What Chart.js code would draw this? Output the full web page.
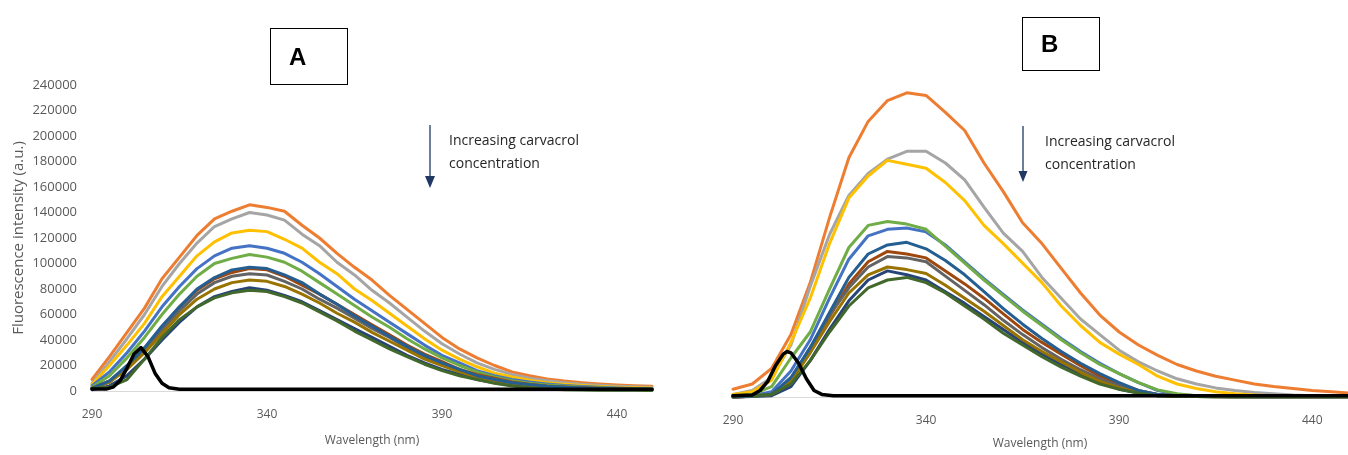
<!DOCTYPE html>
<html>
<head>
<meta charset="utf-8">
<script src="https://cdn.jsdelivr.net/npm/chart.js@4.4.0/dist/chart.umd.min.js"></script>
<style>
  body { margin: 0; background: #fff; }
  #page { position: relative; width: 1348px; height: 455px; overflow: hidden; font-family: 'Open Sans', sans-serif; }
  .panel { position: absolute; top: 0; height: 455px; }
  .tag { position: absolute; box-sizing: border-box; border: 1.5px solid #000; display: flex; align-items: center;
         font-family: 'Liberation Sans', Arial, sans-serif; font-weight: bold; font-size: 24px; color: #000; }
  .note { position: absolute; font-size: 14px; line-height: 23px; color: #262626; white-space: nowrap; }
</style>
</head>
<body>
<div id="page">
  <div class="panel" style="left:0;width:660px"><canvas id="chartA" width="660" height="455"></canvas></div>
  <div class="panel" style="left:660px;width:688px"><canvas id="chartB" width="688" height="455"></canvas></div>

  <div class="tag" style="left:270px;top:28px;width:78px;height:57px;padding-left:18px">A</div>
  <div class="tag" style="left:1022px;top:17px;width:78px;height:54px;padding-left:18px">B</div>

  <svg width="1348" height="455" style="position:absolute;left:0;top:0">
    <line x1="430" y1="125" x2="430" y2="178" stroke="#1F3864" stroke-width="1.3"/>
    <polygon points="425,176 435,176 430,188" fill="#1F3864"/>
    <line x1="1023" y1="126" x2="1023" y2="172" stroke="#1F3864" stroke-width="1.3"/>
    <polygon points="1018.5,171 1027.5,171 1023,182" fill="#1F3864"/>
  </svg>
  <div class="note" style="left:449px;top:128px">Increasing carvacrol<br>concentration</div>
  <div class="note" style="left:1045px;top:129px">Increasing carvacrol<br>concentration</div>
</div>

<script>
// Wavelength grid (nm) and tick labels
const wavelengths = [290, 295, 300, 305, 310, 315, 320, 325, 330, 335, 340, 345, 350, 355, 360, 365,
    370, 375, 380, 385, 390, 395, 400, 405, 410, 415, 420, 425, 430, 435, 440, 445, 450];
const xTicks = [290, 340, 390, 440];
const yTicks = [0, 20, 40, 60, 80, 100, 120, 140, 160, 180, 200, 220, 240]; // thousands a.u.

// Panel A intensities (thousands a.u.)
const aOrange = [9, 27, 46, 65, 88, 105, 122, 135, 141, 146, 144, 141, 130, 120, 108, 97, 87, 75, 64, 53, 42, 33, 26, 20, 15, 12, 9.5, 7.8, 6.5, 5.5, 4.8, 4.2, 3.8];
const aGray = [6, 23, 41, 60, 82, 100, 116, 129, 135, 140, 138, 134, 123, 114, 101, 91, 79, 69, 58, 47, 37, 29, 22, 17, 13, 10, 8, 6.5, 5.3, 4.5, 3.8, 3.3, 3];
const aYellow = [5, 20, 36, 53, 74, 90, 106, 117, 124, 126, 125, 119, 112, 101, 92, 80, 71, 61, 51, 41, 32, 25, 19, 14, 11, 8.5, 6.5, 5.2, 4.3, 3.6, 3, 2.6, 2.3];
const aBlue = [4, 15, 30, 47, 66, 82, 96, 106, 112, 114, 112, 108, 101, 92, 82, 72, 63, 54, 45, 36, 28, 22, 16, 12, 9, 7, 5.5, 4.3, 3.5, 2.9, 2.4, 2, 1.8];
const aGreen = [3, 12, 26, 42, 60, 76, 90, 100, 104, 107, 105, 101, 94, 85, 76, 67, 58, 50, 41, 33, 26, 20, 15, 11, 8, 6, 4.7, 3.7, 3, 2.5, 2, 1.7, 1.5];
const aNavy = [1, 4, 12, 25, 40, 54, 66, 74, 78, 81, 79, 75, 70, 63, 56, 49, 42, 35, 28, 22, 17, 13, 9, 6.5, 4.5, 3, 2, 1.5, 1.2, 1, 0.8, 0.7, 0.6];
const aBrown = [2, 8, 19, 33, 50, 66, 79, 88, 93, 96, 95, 90, 83, 76, 68, 60, 52, 44, 36, 29, 23, 17, 13, 10, 7, 5.3, 4, 3.2, 2.6, 2.1, 1.7, 1.4, 1.2];
const aDarkGray = [2, 7, 18, 32, 48, 63, 76, 85, 90, 92, 91, 86, 80, 72, 65, 57, 49, 42, 34, 27, 21, 16, 12, 9, 6.5, 5, 3.8, 3, 2.4, 1.9, 1.6, 1.3, 1.1];
const aDarkYellow = [2, 7, 17, 30, 45, 60, 72, 80, 85, 87, 86, 82, 76, 69, 61, 54, 46, 39, 32, 25, 20, 15, 11, 8, 6, 4.5, 3.5, 2.7, 2.2, 1.8, 1.5, 1.2, 1];
const aSteel = [2, 8, 20, 34, 51, 66, 80, 89, 95, 97, 96, 91, 85, 76, 68, 59, 51, 43, 35, 28, 22, 17, 12, 9, 6.5, 5, 3.8, 3, 2.4, 2, 1.6, 1.3, 1.1];
const aDarkGreen = [2, 3, 9, 25, 42, 56, 66, 73, 77, 79, 78, 74, 69, 62, 55, 47, 40, 33, 27, 21, 16, 12, 9, 6, 4, 2.5, 1.5, 1, 0.8, 0.6, 0.5, 0.5, 0.4];
const aBlackWavelengths = [290, 294, 296, 298, 300, 302, 304, 306, 308, 310, 312, 315, 320, 450];
const aBlack = [1.5, 1.5, 3, 8, 18, 29, 34, 27, 14, 6, 2.5, 1.3, 1.3, 1.3];

// Panel B intensities (thousands a.u.)
const bOrange = [6, 10, 22, 48, 88, 138, 184, 212, 228, 234, 232, 219, 205, 180, 158, 134, 118, 99, 80, 63, 50, 40, 32, 25, 20, 16, 13, 10, 8, 6.5, 5, 4, 3];
const bGray = [2, 5, 15, 40, 85, 125, 155, 172, 183, 189, 189, 180, 167, 146, 126, 112, 92, 76, 60, 48, 36, 27, 20, 14, 10, 7, 5, 3.5, 2.5, 1.5, 1, 1, 1];
const bYellow = [2, 4, 13, 42, 76, 118, 153, 170, 182, 179, 176, 165, 151, 132, 118, 103, 88, 70, 55, 42, 33, 25, 16, 10, 6.5, 4, 2.5, 1.5, 1, 0.8, 0.6, 0.5, 0.5];
const bBlue = [0.5, 1, 4, 20, 44, 76, 106, 124, 129, 130, 127, 117, 104, 91, 79, 67, 56, 45, 35, 26, 18, 11, 5, 2, 1, 0.5, 0.3, 0.2, 0.2, 0.2, 0.2, 0.2, 0.2];
const bGreen = [1, 2, 8, 30, 50, 83, 115, 132, 135, 133, 129, 116, 103, 90, 78, 66, 55, 44, 34, 25, 18, 11, 5.5, 2.5, 1, 0.5, 0.3, 0.2, 0.2, 0.2, 0.2, 0.2, 0.2];
const bNavy = [0, 0.3, 1, 8, 28, 52, 74, 90, 97, 94, 90, 81, 72, 62, 52, 42, 33, 25, 18, 11, 6, 3, 1, 0.5, 0.3, 0.2, 0.2, 0.2, 0.2, 0.2, 0.2, 0.2, 0.2];
const bBrown = [0, 0.5, 2, 14, 36, 62, 87, 104, 112, 110, 107, 97, 87, 76, 64, 52, 42, 33, 24, 16, 10, 5, 2, 1, 0.5, 0.3, 0.2, 0.2, 0.2, 0.2, 0.2, 0.2, 0.2];
const bDarkGray = [0, 0.5, 2, 14, 38, 63, 84, 100, 108, 107, 104, 93, 82, 71, 59, 48, 38, 29, 21, 14, 8.5, 4, 2, 1, 0.5, 0.3, 0.2, 0.2, 0.2, 0.2, 0.2, 0.2, 0.2];
const bDarkYellow = [0, 0.5, 2, 12, 34, 58, 80, 94, 100, 98, 95, 86, 76, 66, 55, 44, 35, 27, 19, 12, 7, 3.5, 1.5, 0.5, 0.3, 0.2, 0.2, 0.2, 0.2, 0.2, 0.2, 0.2, 0.2];
const bSteel = [0, 0.5, 2, 15, 38, 65, 92, 110, 117, 119, 114, 105, 94, 81, 68, 56, 45, 35, 26, 18, 11, 5, 2, 1, 0.5, 0.3, 0.2, 0.2, 0.2, 0.2, 0.2, 0.2, 0.2];
const bDarkGreen = [0.5, 1, 2, 10, 28, 50, 70, 84, 90, 92, 88, 80, 70, 60, 49, 40, 31, 23, 16, 10, 6, 3, 1, 0.5, 0.3, 0.2, 0.2, 0.2, 0.2, 0.2, 0.2, 0.2, 0.2];
const bBlackWavelengths = [290, 295, 297, 299, 301, 303, 304, 305, 307, 309, 311, 313, 316, 450];
const bBlack = [1, 1.5, 5, 12, 24, 33, 35, 34, 26, 14, 5, 2, 1, 1];

// Line colours, same order as the series lists below
const lineColors = ['#ED7D31', '#A5A5A5', '#FFC000', '#4472C4', '#70AD47', '#264478',
    '#9E480E', '#636363', '#997300', '#255E91', '#43682B'];

Chart.defaults.font.family = "'Open Sans', sans-serif";

function buildDatasets(seriesList, blackX, blackY) {
    // dataset 0 is drawn on top, so black first, then the series in reverse
    const sets = [{
        data: blackX.map((x, i) => ({ x: x, y: blackY[i] })),
        borderColor: '#000000',
        borderWidth: 3.5
    }];
    for (let i = seriesList.length - 1; i >= 0; i--) {
        sets.push({
            data: wavelengths.map((x, j) => ({ x: x, y: seriesList[i][j] })),
            borderColor: lineColors[i],
            borderWidth: 3
        });
    }
    return sets;
}

function makeChart(id, datasets, cfg) {
    const ctx = document.getElementById(id).getContext('2d');
    return new Chart(ctx, {
        type: 'line',
        data: { datasets: datasets },
        options: {
            responsive: false,
            animation: false,
            clip: false,
            layout: { padding: { top: 85, right: cfg.padRight, left: 0, bottom: 0 } },
            elements: {
                point: { radius: 0 },
                line: { tension: 0, borderJoinStyle: 'round', borderCapStyle: 'round' }
            },
            plugins: { legend: { display: false }, tooltip: { enabled: false } },
            scales: {
                x: {
                    type: 'linear',
                    min: 290,
                    max: cfg.xMax,
                    afterBuildTicks: s => { s.ticks = xTicks.map(v => ({ value: v })); },
                    grid: { display: false, drawTicks: false },
                    border: { color: '#D9D9D9', width: 1 },
                    ticks: { color: '#595959', font: { size: 12 }, padding: 16, maxRotation: 0 },
                    title: {
                        display: true, text: 'Wavelength (nm)', color: '#595959',
                        font: { size: 12 }, padding: { top: 0, bottom: cfg.xTitlePad }
                    },
                    afterFit: s => { s.height = cfg.xHeight; }
                },
                y: {
                    min: 0,
                    max: 240,
                    afterBuildTicks: s => { s.ticks = yTicks.map(v => ({ value: v })); },
                    grid: { display: false, drawTicks: false },
                    border: { display: false },
                    ticks: {
                        display: cfg.showY, color: '#595959', font: { size: 13 }, padding: 15,
                        callback: v => String(v * 1000)
                    },
                    title: {
                        display: cfg.showY, text: 'Fluorescence intensity (a.u.)', color: '#595959',
                        font: { size: 15 }, padding: { top: 10, bottom: 0 }
                    },
                    afterFit: s => { s.width = cfg.yWidth; }
                }
            }
        }
    });
}

makeChart('chartA',
    buildDatasets([aOrange, aGray, aYellow, aBlue, aGreen, aNavy, aBrown, aDarkGray, aDarkYellow, aSteel, aDarkGreen],
        aBlackWavelengths, aBlack),
    { xMax: 450, padRight: 8, xHeight: 64, xTitlePad: 7, yWidth: 92, showY: true });

makeChart('chartB',
    buildDatasets([bOrange, bGray, bYellow, bBlue, bGreen, bNavy, bBrown, bDarkGray, bDarkYellow, bSteel, bDarkGreen],
        bBlackWavelengths, bBlack),
    { xMax: 449, padRight: 1, xHeight: 58, xTitlePad: 4, yWidth: 73, showY: false });
</script>
</body>
</html>
